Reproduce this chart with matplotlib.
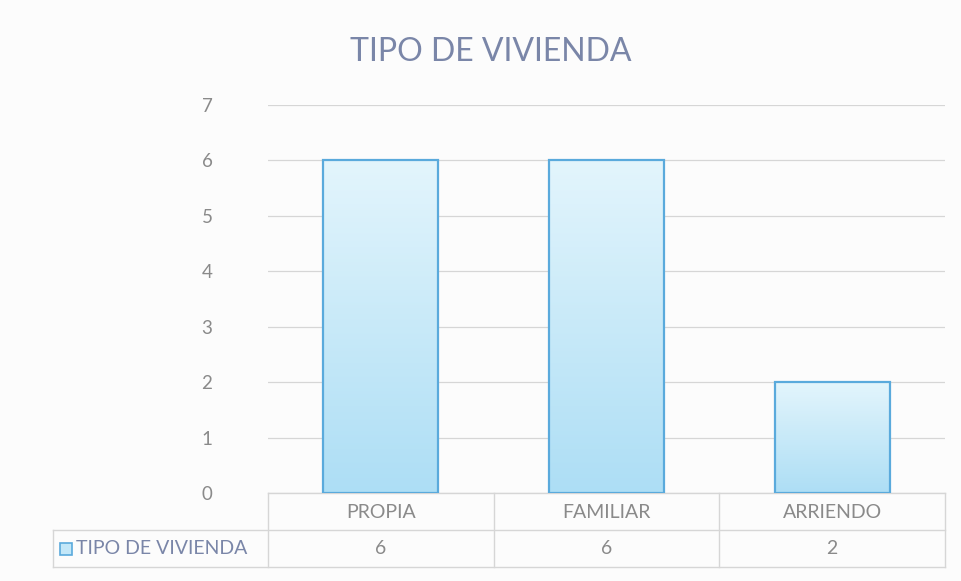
import numpy as np
import matplotlib.pyplot as plt
from matplotlib.patches import Rectangle

# datos
categorias = ["PROPIA", "FAMILIAR", "ARRIENDO"]
valores = [6, 6, 2]
serie = "TIPO DE VIVIENDA"
titulo = "TIPO DE VIVIENDA"
y_ticks = [0, 1, 2, 3, 4, 5, 6, 7]

plt.rcParams['font.family'] = ['Lato', 'DejaVu Sans']

GRIS = '#8a8a8a'
AZUL_TXT = '#7a86a8'
BORDE = '#5aaadc'
LINEA = '#d6d6d6'

fig = plt.figure(figsize=(9.62, 5.81), dpi=100, facecolor='#fcfcfc')
ax = fig.add_axes([268 / 962, 1 - 493 / 581, (945 - 268) / 962, (493 - 105) / 581])
ax.set_facecolor('none')

x = np.arange(len(categorias))
bars = ax.bar(x, valores, width=0.51, facecolor='none', edgecolor=BORDE, linewidth=1.6, zorder=3)

# degradado vertical dentro de cada barra
grad = np.linspace(0, 1, 256).reshape(-1, 1)
cmap = plt.matplotlib.colors.LinearSegmentedColormap.from_list('g', ['#addef5', '#e3f5fc'])
for b in bars:
    x0, y0 = b.get_x(), b.get_y()
    w, h = b.get_width(), b.get_height()
    im = ax.imshow(grad, cmap=cmap, origin='lower', aspect='auto',
                   extent=(x0, x0 + w, y0, y0 + h), zorder=2)
    im.set_clip_path(b)

ax.set_xlim(-0.5, len(categorias) - 0.5)
ax.set_ylim(0, 7)
ax.set_yticks(y_ticks)
ax.set_xticks([])
ax.tick_params(axis='y', length=0, labelsize=13.5, labelcolor=GRIS, pad=40)
ax.grid(axis='y', color=LINEA, linewidth=0.9, zorder=0)
for s in ax.spines.values():
    s.set_visible(False)

fig.text(491 / 962, 1 - 52 / 581, titulo, ha='center', va='center', fontsize=23, color=AZUL_TXT)

# tabla de datos bajo el eje (coordenadas de figura en y)
trans = ax.get_xaxis_transform()
fy = lambda py: 1 - py / 581
ax_bot = ax.get_position().y0
ax_h = ax.get_position().height
ay = lambda py: (fy(py) - ax_bot) / ax_h

left_cell = -0.5 - (268 - 53) / ((945 - 268) / 3)

def hline(y, xa, xb):
    ax.plot([xa, xb], [ay(y), ay(y)], transform=trans, color=LINEA, lw=1.0, clip_on=False)

def vline(xv, ya, yb):
    ax.plot([xv, xv], [ay(ya), ay(yb)], transform=trans, color=LINEA, lw=1.0, clip_on=False)

hline(493, -0.5, 2.5)
hline(530, left_cell, 2.5)
hline(567, left_cell, 2.5)
vline(left_cell, 530, 567)
for xv in np.arange(-0.5, 3, 1.0):
    vline(xv, 493, 567)

for i, (c, v) in enumerate(zip(categorias, valores)):
    ax.text(i, ay(512), c, transform=trans, ha='center', va='center', fontsize=14, color=GRIS)
    ax.text(i, ay(549), str(v), transform=trans, ha='center', va='center', fontsize=14, color=GRIS)

# clave de leyenda + nombre de serie
kx = left_cell + 0.033
ax.add_patch(Rectangle((kx, ay(555)), 0.05, ay(543) - ay(555), transform=trans,
                       facecolor='#c3e7f8', edgecolor=BORDE, lw=1.2, clip_on=False))
ax.text(kx + 0.07, ay(549), serie, transform=trans, ha='left', va='center',
        fontsize=14, color=AZUL_TXT)

fig.savefig('out.png', dpi=100, facecolor=fig.get_facecolor())
